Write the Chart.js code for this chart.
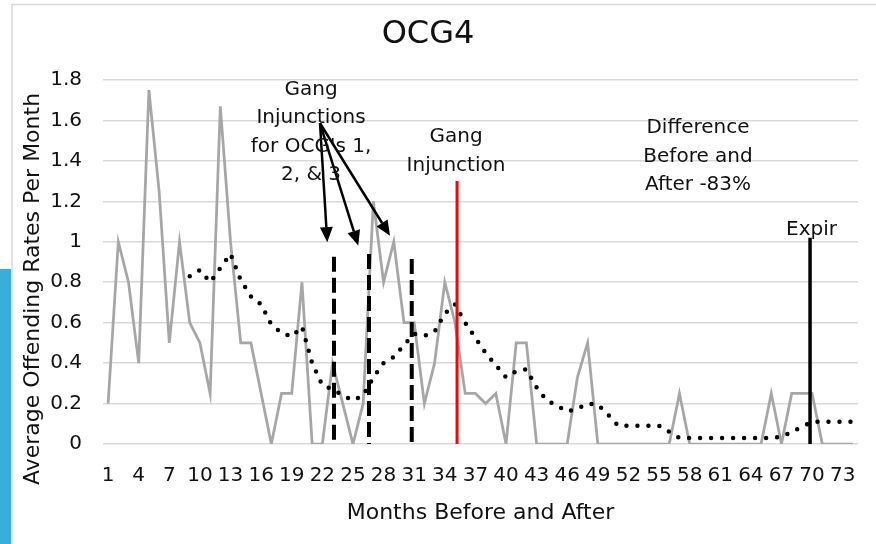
<!DOCTYPE html>
<html>
<head>
<meta charset="utf-8">
<script src="https://cdn.jsdelivr.net/npm/chart.js@4"></script>
<style>
  body { margin: 0; background: #fff; }
  canvas { display: block; }
</style>
</head>
<body>
<canvas id="chart" width="876" height="544"></canvas>
<script>
// Months before and after (categories)
const months = [];
for (let m = 1; m <= 74; m++) months.push(m);

// Tick labels shown on the x axis
const tickMonths = [1, 4, 7, 10, 13, 16, 19, 22, 25, 28, 31, 34, 37, 40, 43, 46, 49, 52, 55, 58, 61, 64, 67, 70, 73];

// Average offending rate per month (grey line)
const offendingRates = [
    0.2, 1.0, 0.8, 0.4, 1.75, 1.25, 0.5, 1.0, 0.6, 0.5,
    0.25, 1.67, 1.0, 0.5, 0.5, 0.25, 0, 0.25, 0.25, 0.8,
    0, 0, 0.4, 0.2, 0, 0.2, 1.2, 0.8, 1.0, 0.6,
    0.6, 0.2, 0.4, 0.8, 0.6, 0.25, 0.25, 0.2, 0.25, 0,
    0.5, 0.5, 0, 0, 0, 0, 0.33, 0.5, 0, 0,
    0, 0, 0, 0, 0, 0, 0.25, 0, 0, 0,
    0, 0, 0, 0, 0, 0.25, 0, 0.25, 0.25, 0.25,
    0, 0, 0, 0
];

// Moving average trend (dotted line)
const movingAverage = [
    null, null, null, null, null, null, null, null, 0.83, 0.86,
    0.8, 0.87, 0.94, 0.81, 0.73, 0.69, 0.59, 0.55, 0.53, 0.58,
    0.4, 0.29, 0.27, 0.24, 0.215, 0.24, 0.33, 0.4, 0.43, 0.49,
    0.545, 0.535, 0.555, 0.645, 0.69, 0.6, 0.525, 0.45, 0.39, 0.33,
    0.36, 0.37, 0.28, 0.215, 0.19, 0.16, 0.175, 0.2, 0.195, 0.145,
    0.09, 0.09, 0.09, 0.09, 0.09, 0.06, 0.03, 0.03, 0.03, 0.03,
    0.03, 0.03, 0.03, 0.03, 0.03, 0.03, 0.035, 0.06, 0.085, 0.11,
    0.11, 0.11, 0.11, 0.11
];

// Vertical marker lines: month position and top value
const markerMonths = [23.14, 26.57, 30.76, 35.2, 69.8];
const markerTops = [0.926, 0.94, 0.915, 1.3, 1.02];
const markerStyles = [
    { color: '#000', width: 4, dash: [15, 6] },
    { color: '#000', width: 4, dash: [15, 6] },
    { color: '#000', width: 4, dash: [15, 6] },
    { color: '#ff0000', width: 3, dash: [] },
    { color: '#000', width: 3.5, dash: [] }
];

// Arrows from the "Gang Injunctions" note to the dashed lines
const arrowFrom = [21.77, 1.586];
const arrowTips = [[22.48, 0.998], [25.52, 0.981], [28.63, 1.03]];

// Text notes: month, value of first baseline, lines
const notes = [
    { x: 20.89, y: 1.726, lines: ['Gang', 'Injunctions', "for OCG's 1,", '2, & 3'] },
    { x: 35.1, y: 1.491, lines: ['Gang', 'Injunction'] },
    { x: 58.82, y: 1.537, lines: ['Difference', 'Before and', 'After -83%'] },
    { x: 69.94, y: 1.034, lines: ['Expir'] }
];

const FONT = '"DejaVu Sans", sans-serif';
const TEXT = '#111';

// Background, frame and side bar
const framePlugin = {
    id: 'frame',
    beforeDraw(chart) {
        const ctx = chart.ctx;
        ctx.save();
        ctx.fillStyle = '#fff';
        ctx.fillRect(0, 0, chart.width, chart.height);
        ctx.fillStyle = '#3aaedb';
        ctx.fillRect(0, 269, 11, chart.height - 269);
        ctx.strokeStyle = '#d9d9d9';
        ctx.lineWidth = 1.5;
        ctx.beginPath();
        ctx.moveTo(12, chart.height);
        ctx.lineTo(12, 4.5);
        ctx.lineTo(chart.width, 4.5);
        ctx.stroke();
        ctx.restore();
    }
};

// Marker lines, arrows, notes and titles
const notesPlugin = {
    id: 'notes',
    afterDatasetsDraw(chart) {
        const ctx = chart.ctx;
        const xs = chart.scales.x;
        const ys = chart.scales.y;
        ctx.save();

        // vertical markers
        markerMonths.forEach(function(m, i) {
            const st = markerStyles[i];
            const px = xs.getPixelForValue(m);
            ctx.beginPath();
            ctx.strokeStyle = st.color;
            ctx.lineWidth = st.width;
            ctx.setLineDash(st.dash);
            ctx.moveTo(px, ys.getPixelForValue(markerTops[i]));
            ctx.lineTo(px, ys.getPixelForValue(0));
            ctx.stroke();
        });
        ctx.setLineDash([]);

        // arrows
        const ox = xs.getPixelForValue(arrowFrom[0]);
        const oy = ys.getPixelForValue(arrowFrom[1]);
        arrowTips.forEach(function(t) {
            const tx = xs.getPixelForValue(t[0]);
            const ty = ys.getPixelForValue(t[1]);
            const ang = Math.atan2(ty - oy, tx - ox);
            const headLen = 15, headHalf = 6.5;
            const bx = tx - headLen * Math.cos(ang);
            const by = ty - headLen * Math.sin(ang);
            ctx.beginPath();
            ctx.strokeStyle = '#000';
            ctx.lineWidth = 2.5;
            ctx.moveTo(ox, oy);
            ctx.lineTo(bx, by);
            ctx.stroke();
            ctx.beginPath();
            ctx.fillStyle = '#000';
            ctx.moveTo(tx, ty);
            ctx.lineTo(bx + headHalf * Math.sin(ang), by - headHalf * Math.cos(ang));
            ctx.lineTo(bx - headHalf * Math.sin(ang), by + headHalf * Math.cos(ang));
            ctx.closePath();
            ctx.fill();
        });

        // text notes
        ctx.fillStyle = TEXT;
        ctx.font = '20px ' + FONT;
        ctx.textAlign = 'center';
        ctx.textBaseline = 'alphabetic';
        notes.forEach(function(n) {
            const px = xs.getPixelForValue(n.x);
            const py = ys.getPixelForValue(n.y);
            n.lines.forEach(function(line, i) {
                ctx.fillText(line, px, py + i * 28.5);
            });
        });

        // chart title
        ctx.font = '32px ' + FONT;
        ctx.fillText('OCG4', 428, 43);

        // axis titles
        ctx.font = '22px ' + FONT;
        ctx.fillText('Months Before and After', (chart.chartArea.left + chart.chartArea.right) / 2, 519);
        ctx.translate(39, 289);
        ctx.rotate(-Math.PI / 2);
        ctx.fillText('Average Offending Rates Per Month', 0, 0);
        ctx.restore();
    }
};

const ctx = document.getElementById('chart').getContext('2d');
const chart = new Chart(ctx, {
    type: 'line',
    data: {
        labels: months,
        datasets: [
            {
                label: 'Offending rate',
                data: offendingRates,
                borderColor: '#a6a6a6',
                borderWidth: 2.75,
                pointRadius: 0,
                tension: 0,
                order: 2
            },
            {
                label: 'Moving average',
                data: movingAverage,
                borderColor: '#000',
                borderWidth: 4.5,
                borderDash: [0, 11],
                borderCapStyle: 'round',
                pointRadius: 0,
                tension: 0,
                order: 1
            }
        ]
    },
    options: {
        responsive: false,
        animation: false,
        devicePixelRatio: 1,
        layout: { padding: { top: 80, right: 18, bottom: 0, left: 0 } },
        plugins: {
            legend: { display: false },
            tooltip: { enabled: false },
            title: { display: false }
        },
        scales: {
            x: {
                type: 'linear',
                min: 0.5,
                max: 74.5,
                grid: { display: false, drawTicks: false },
                border: { display: false },
                afterFit: function(scale) { scale.height = 100; },
                afterBuildTicks: function(scale) {
                    scale.ticks = tickMonths.map(v => ({ value: v }));
                },
                ticks: {
                    autoSkip: false,
                    maxRotation: 0,
                    padding: 20,
                    color: TEXT,
                    font: { family: FONT, size: 20 },
                    callback: v => String(v)
                }
            },
            y: {
                min: 0,
                max: 1.8,
                grid: { color: '#d9d9d9', lineWidth: 1.5, drawTicks: false },
                border: { display: false },
                afterFit: function(scale) { scale.width = 103; },
                ticks: {
                    stepSize: 0.2,
                    padding: 21,
                    color: TEXT,
                    font: { family: FONT, size: 20 },
                    callback: v => String(+v.toFixed(1))
                }
            }
        }
    },
    plugins: [framePlugin, notesPlugin]
});
</script>
</body>
</html>
